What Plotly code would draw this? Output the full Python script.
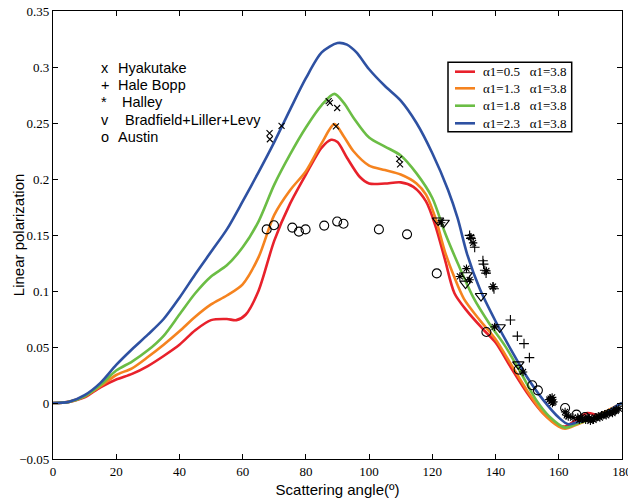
import plotly.graph_objects as go

# ---------------- data ----------------
angle_red = [0, 5, 10, 15, 20, 25, 30, 35, 40, 45, 50, 55, 58, 61, 65, 70, 75, 80, 85, 88, 90, 93, 97, 100,
             105, 110, 114, 118, 121, 124, 127, 131, 136, 140, 145, 150, 155, 160, 162, 165, 169, 173, 176, 180]
pol_red = [0, 0.001, 0.005, 0.014, 0.021, 0.026, 0.033, 0.042, 0.052, 0.065, 0.074, 0.075, 0.074, 0.079, 0.1,
           0.145, 0.178, 0.204, 0.228, 0.235, 0.233, 0.219, 0.202, 0.196, 0.196, 0.197, 0.193, 0.18, 0.158,
           0.128, 0.098, 0.082, 0.066, 0.054, 0.031, 0.009, -0.009, -0.020, -0.021, -0.016, -0.009, -0.011,
           -0.007, 0]

angle_orange = [0, 5, 10, 15, 20, 25, 30, 35, 40, 45, 50, 55, 60, 65, 70, 75, 80, 85, 89, 92, 95, 100, 105,
                110, 115, 118, 121, 124, 127, 130, 135, 140, 145, 150, 155, 160, 162, 166, 172, 176, 180]
pol_orange = [0, 0.001, 0.006, 0.015, 0.025, 0.031, 0.041, 0.052, 0.064, 0.077, 0.088, 0.096, 0.106, 0.13,
              0.168, 0.19, 0.207, 0.232, 0.249, 0.238, 0.225, 0.212, 0.208, 0.204, 0.196, 0.186, 0.165, 0.135,
              0.112, 0.093, 0.074, 0.057, 0.034, 0.011, -0.009, -0.021, -0.023, -0.019, -0.012, -0.006, 0]

angle_green = [0, 5, 10, 15, 20, 25, 30, 35, 40, 45, 50, 55, 60, 65, 70, 75, 80, 85, 89, 92, 95, 100, 105,
               110, 115, 120, 124, 128, 133, 138, 143, 148, 153, 157, 162, 166, 172, 176, 180]
pol_green = [0, 0.001, 0.006, 0.016, 0.029, 0.037, 0.047, 0.06, 0.079, 0.098, 0.113, 0.123, 0.139, 0.162,
             0.195, 0.222, 0.246, 0.266, 0.276, 0.268, 0.255, 0.237, 0.229, 0.221, 0.205, 0.183, 0.152, 0.125,
             0.094, 0.071, 0.051, 0.027, 0.002, -0.012, -0.022, -0.018, -0.013, -0.007, 0]

angle_blue = [0, 5, 10, 15, 20, 25, 30, 35, 40, 45, 50, 55, 60, 65, 70, 75, 80, 85, 90, 93, 96, 100, 105,
              110, 115, 120, 125, 128, 131, 135, 140, 145, 150, 155, 160, 163, 166, 170, 174, 178, 180]
pol_blue = [0, 0.001, 0.007, 0.018, 0.034, 0.048, 0.061, 0.075, 0.094, 0.115, 0.135, 0.155, 0.18, 0.206,
            0.233, 0.262, 0.29, 0.313, 0.3214, 0.32, 0.313, 0.298, 0.283, 0.27, 0.25, 0.223, 0.19, 0.165,
            0.133, 0.102, 0.073, 0.047, 0.023, 0.003, -0.013, -0.019, -0.017, -0.014, -0.011, -0.003, 0]

model_names = ["α1=0.5\u00a0\u00a0\u00a0α1=3.8", "α1=1.3\u00a0\u00a0\u00a0α1=3.8",
               "α1=1.8\u00a0\u00a0\u00a0α1=3.8", "α1=2.3\u00a0\u00a0\u00a0α1=3.8"]
model_colors = ["#e8212b", "#f5831f", "#6bbd45", "#2e51a2"]

hyakutake_angle = [68.5, 68.6, 72.3, 87.2, 87.6, 89.9, 89.5, 109.5, 109.8]
hyakutake_pol = [0.241, 0.2355, 0.2474, 0.2696, 0.268, 0.2634, 0.247, 0.218, 0.213]

halebopp_angle = [131.8, 132.2, 133.4, 136.0, 136.2, 136.6, 137.0, 139.2, 139.5, 144.7, 146.9, 149.0, 150.7]
halebopp_pol = [0.1497, 0.147, 0.139, 0.127, 0.124, 0.1185, 0.116, 0.1036, 0.102, 0.0741, 0.0597, 0.053, 0.0405]

halley_angle = [122.8, 128.7, 130.8, 131.8, 132.2, 132.9, 137.1, 139.2, 139.7, 148.7,
                157.0, 157.4, 157.7, 157.9, 158.0, 158.3, 162.0, 162.5, 163.0, 164.5, 166.0, 166.5,
                167.0, 167.5, 168.5, 169.0, 169.5, 170.0, 170.5, 171.0, 171.5, 172.0, 172.5, 173.0,
                173.5, 174.0, 174.5, 175.0, 175.5, 176.0, 176.5, 177.0, 177.5, 178.0, 178.2, 179.0]
halley_pol = [0.161, 0.113, 0.12, 0.11, 0.148, 0.143, 0.118, 0.104, 0.068, 0.0277,
              0.003, 0.004, 0.002, 0.005, 0.0, 0.001, -0.008, -0.011, -0.012, -0.013, -0.013, -0.015,
              -0.013, -0.014, -0.015, -0.0125, -0.014, -0.016, -0.014, -0.015, -0.013, -0.013, -0.012, -0.013,
              -0.011, -0.011, -0.010, -0.011, -0.009, -0.009, -0.008, -0.009, -0.007, -0.007, -0.006, -0.005]

bradfield_angle = [121.8, 123.6, 130.8, 130.5, 135.4, 141.3, 147.2]
bradfield_pol = [0.163, 0.161, 0.114, 0.1066, 0.0955, 0.0676, 0.0345]

austin_angle = [67.6, 69.9, 75.7, 77.8, 79.9, 85.8, 89.9, 91.9, 103.1, 112.0, 121.4, 137.1, 147.3,
                151.6, 153.4, 162.0, 165.6, 168.3]
austin_pol = [0.155, 0.1587, 0.1566, 0.153, 0.155, 0.1584, 0.162, 0.160, 0.155, 0.1506, 0.1157, 0.0634,
              0.0298, 0.0158, 0.0113, -0.0045, -0.0104, -0.0125]

x_ticks = [0, 20, 40, 60, 80, 100, 120, 140, 160, 180]
y_ticks = [-0.05, 0, 0.05, 0.1, 0.15, 0.2, 0.25, 0.3, 0.35]

key_symbols = ["x", "+", "*", "v", "o"]
key_names = ["Hyakutake", "Hale Bopp", "Halley", "Bradfield+Liller+Levy", "Austin"]

x_title = "Scattering angle(º)"
y_title = "Linear polarization"

# ---------------- figure ----------------
W, H = 628, 498
ML, MR, MT, MB = 53, 6, 11, 39
fig = go.Figure()

for ang, pol, name, col in zip([angle_red, angle_orange, angle_green, angle_blue],
                               [pol_red, pol_orange, pol_green, pol_blue],
                               model_names, model_colors):
    fig.add_trace(go.Scatter(x=ang, y=pol, mode="lines", name=name,
                             line=dict(color=col, width=2.6, shape="spline", smoothing=0.8),
                             showlegend=False))

def obs(ang, pol, sym, size, name):
    fig.add_trace(go.Scatter(x=ang, y=pol, mode="markers", name=name, showlegend=False,
                             marker=dict(symbol=sym, size=size, color="black",
                                         line=dict(color="black", width=1.1))))

obs(hyakutake_angle, hyakutake_pol, "x-thin-open", 6, "Hyakutake")
obs(halebopp_angle, halebopp_pol, "cross-thin-open", 7, "Hale Bopp")
obs(halley_angle, halley_pol, "asterisk-open", 7, "Halley")
obs(bradfield_angle, bradfield_pol, "triangle-down-open", 10, "Bradfield+Liller+Levy")
obs(austin_angle, austin_pol, "circle-open", 9, "Austin")

pw = W - ML - MR
ph = H - MT - MB
def px2paper(px, py):
    return (px - ML) / pw, (H - MB - py) / ph

key_rows_py = [68.3, 85, 101.7, 120, 136.7]
key_text_px = [116, 116, 120, 123, 116]
annotations = []
for sym, nm, py, tx in zip(key_symbols, key_names, key_rows_py, key_text_px):
    sx, sy = px2paper(99, py)
    annotations.append(dict(x=sx, y=sy, xref="paper", yref="paper", text=sym, showarrow=False,
                            xanchor="left", yanchor="middle",
                            font=dict(family="Liberation Sans, Arial", size=14.5, color="black")))
    tx_, ty_ = px2paper(tx, py)
    annotations.append(dict(x=tx_, y=ty_, xref="paper", yref="paper", text=nm, showarrow=False,
                            xanchor="left", yanchor="middle",
                            font=dict(family="Liberation Sans, Arial", size=14.5, color="black")))

# y-axis title placed as rotated text
yt_x, yt_y = px2paper(18.5, 234.7)
annotations.append(dict(x=yt_x, y=yt_y, xref="paper", yref="paper", text=y_title, showarrow=False,
                        textangle=-90, xanchor="center", yanchor="middle",
                        font=dict(family="Liberation Sans, Arial", size=15, color="black")))

shapes = []
bx0, by0 = px2paper(448, 62.3)
bx1, by1 = px2paper(571.7, 131.7)
shapes.append(dict(type="rect", xref="paper", yref="paper", x0=bx0, y0=by1, x1=bx1, y1=by0,
                   line=dict(color="black", width=1.5), fillcolor="white", layer="above"))
legend_rows_py = [71.7, 88.3, 105.7, 123.3]
for name, col, py in zip(model_names, model_colors, legend_rows_py):
    lx0, ly = px2paper(455, py)
    lx1, _ = px2paper(475, py)
    shapes.append(dict(type="line", xref="paper", yref="paper", x0=lx0, x1=lx1, y0=ly, y1=ly,
                       line=dict(color=col, width=2.6), layer="above"))
    tx_, ty_ = px2paper(480.5, py)
    annotations.append(dict(x=tx_, y=ty_, xref="paper", yref="paper", text=name, showarrow=False,
                            xanchor="left", yanchor="middle",
                            font=dict(family="Liberation Serif, Times New Roman", size=13, color="black")))

fig.update_layout(
    width=W, height=H,
    margin=dict(l=ML, r=MR, t=MT, b=MB, pad=0),
    paper_bgcolor="white", plot_bgcolor="white",
    showlegend=False,
    annotations=annotations, shapes=shapes,
    font=dict(family="Liberation Serif, Times New Roman", size=13, color="black"),
)
fig.update_xaxes(range=[0, 180], tickvals=x_ticks, ticks="inside", ticklen=5, tickcolor="black",
                 showline=True, linecolor="black", linewidth=1.2, mirror="ticks",
                 showgrid=False, zeroline=False, automargin=False, ticklabeloverflow="allow",
                 tickfont=dict(family="Liberation Serif, Times New Roman", size=13),
                 title=dict(text=x_title,
                            font=dict(family="Liberation Sans, Arial", size=15)))
fig.update_yaxes(range=[-0.05, 0.35], tickvals=y_ticks, ticks="inside", ticklen=5, tickcolor="black",
                 showline=True, linecolor="black", linewidth=1.2, mirror="ticks",
                 showgrid=False, zeroline=False, automargin=False, ticklabeloverflow="allow",
                 tickfont=dict(family="Liberation Serif, Times New Roman", size=13))

fig.write_html("out.html", config={"responsive": False, "displayModeBar": False},
               post_script="document.body.style.margin='0';document.body.style.overflow='hidden';")
